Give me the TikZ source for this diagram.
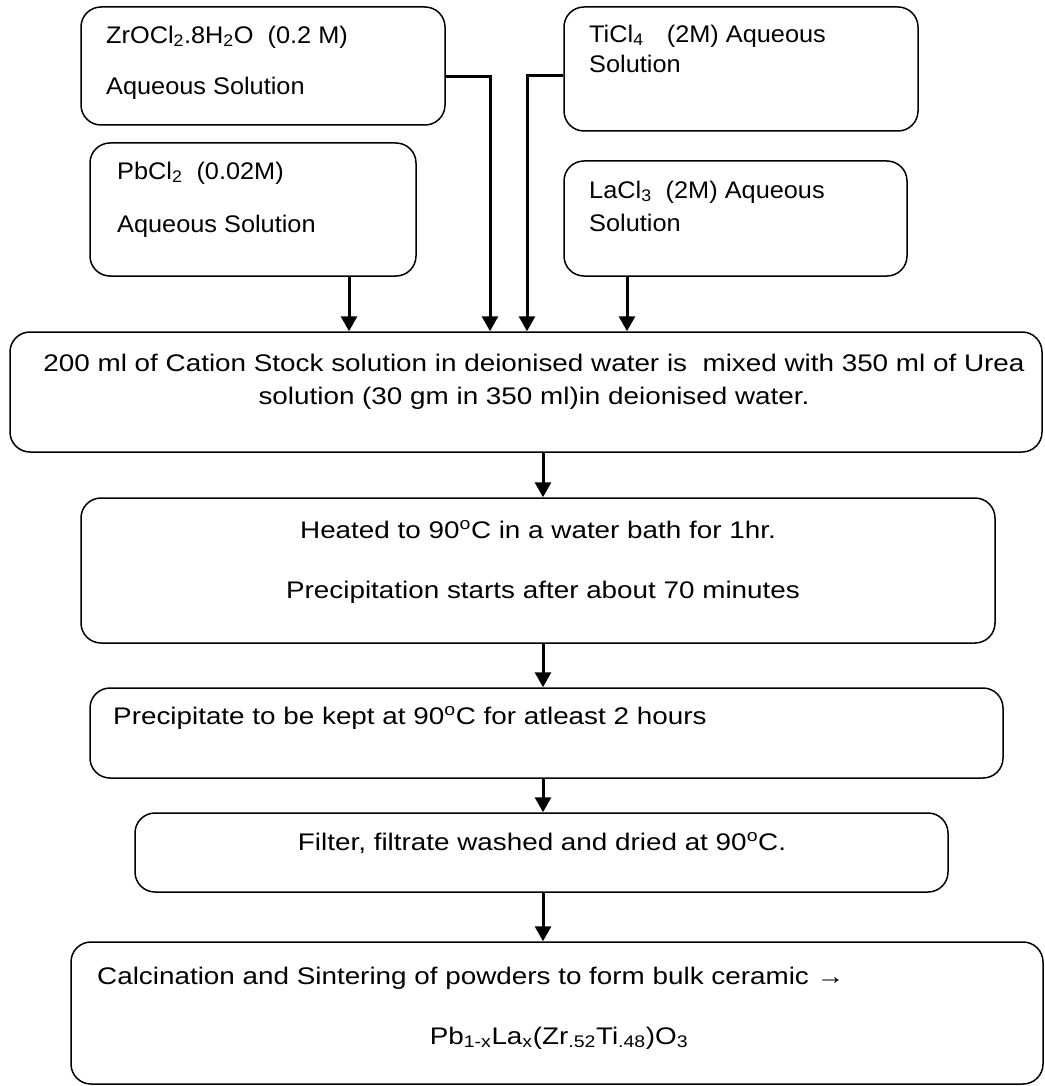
\documentclass[tikz,border=0pt]{standalone}
\usepackage{fontspec}
\usepackage{graphicx}
\setmainfont{Liberation Sans}
\usetikzlibrary{arrows.meta}
\newcommand\wideS[1]{\scalebox{1.055}[1]{#1}}
\newcommand\wideL[1]{\scalebox{1.16}[1]{#1}}
\begin{document}
\begin{tikzpicture}[x=1pt,y=-1pt,
  box/.style={draw, line width=1.5pt, rounded corners=20pt, inner sep=0pt},
  txt/.style={inner sep=0pt, font=\fontsize{24}{29}\selectfont},
  conn/.style={line width=3pt, -{Triangle[length=15pt,width=16pt]}}]
\useasboundingbox (0,0) rectangle (1044,1086);
% boxes
\node[box, minimum width=364pt, minimum height=118pt] (b1) at (263,66) {};
\node[box, minimum width=326pt, minimum height=133pt] (b2) at (253,209.5) {};
\node[box, minimum width=354pt, minimum height=124pt] (b3) at (741,69) {};
\node[box, minimum width=343pt, minimum height=115pt] (b4) at (735.5,218.5) {};
\node[box, minimum width=1032pt, minimum height=120pt] (main) at (526,392) {};
\node[box, minimum width=914pt, minimum height=145pt] (heat) at (538,570.5) {};
\node[box, minimum width=913pt, minimum height=90pt] (prec) at (546.5,733) {};
\node[box, minimum width=813pt, minimum height=79pt] (filt) at (541.5,852.5) {};
\node[box, minimum width=972pt, minimum height=142pt] (fin) at (557,1013) {};
% texts
\node[txt, anchor=west] (t1a) at (106,37) {\wideS{ZrOCl\textsubscript{2}.8H\textsubscript{2}O\ \ (0.2 M)}};
\node[txt, anchor=west] (t1b) at (106,88) {\wideS{Aqueous Solution}};
\node[txt, anchor=west] (t2a) at (117,173) {\wideS{PbCl\textsubscript{2}\ \ (0.02M)}};
\node[txt, anchor=west] (t2b) at (117,226) {\wideS{Aqueous Solution}};
\node[txt, anchor=west] (t3a) at (589,36) {\wideS{TiCl\textsubscript{4}\hspace{22pt}(2M) Aqueous}};
\node[txt, anchor=west] (t3b) at (589,64) {\wideS{Solution}};
\node[txt, anchor=west] (t4a) at (589,192) {\wideS{LaCl\textsubscript{3}\ \ (2M) Aqueous}};
\node[txt, anchor=west] (t4b) at (589,223) {\wideS{Solution}};
\node[txt] (tma) at (534,363) {\wideL{200 ml of Cation Stock solution in deionised water is\ \ mixed with 350 ml of Urea}};
\node[txt] (tmb) at (534,398) {\wideL{solution (30 gm in 350 ml)in deionised water.}};
\node[txt] (tha) at (538,530) {\wideL{Heated to 90\textsuperscript{o}C in a water bath for 1hr.}};
\node[txt] (thb) at (543,592) {\wideL{Precipitation starts after about 70 minutes}};
\node[txt, anchor=west] (tp) at (113,718) {\wideL{Precipitate to be kept at 90\textsuperscript{o}C for atleast 2 hours}};
\node[txt] (tf) at (542,843) {\wideL{Filter, filtrate washed and dried at 90\textsuperscript{o}C.}};
\node[txt, anchor=west] (tca) at (97,978) {\wideL{Calcination and Sintering of powders to form bulk ceramic →}};
\node[txt] (tcb) at (559,1038) {\wideL{Pb\textsubscript{1-x}La\textsubscript{x}(Zr\textsubscript{.52}Ti\textsubscript{.48})O\textsubscript{3}}};
% connectors
\coordinate (ax) at (543,0);
\draw[conn] ([yshift=-11pt]b1.east) -| ([xshift=-36pt]main.north);
\draw[conn] ([yshift=-7pt]b3.west) -| ([xshift=1pt]main.north);
\draw[conn] ([xshift=96pt]b2.south) -- ([xshift=-177pt]main.north);
\draw[conn] ([xshift=-108.5pt]b4.south) -- ([xshift=101pt]main.north);
\draw[conn] (main.south -| ax) -- (heat.north -| ax);
\draw[conn] (heat.south -| ax) -- (prec.north -| ax);
\draw[conn] (prec.south -| ax) -- (filt.north -| ax);
\draw[conn] (filt.south -| ax) -- (fin.north -| ax);
\end{tikzpicture}
\end{document}
